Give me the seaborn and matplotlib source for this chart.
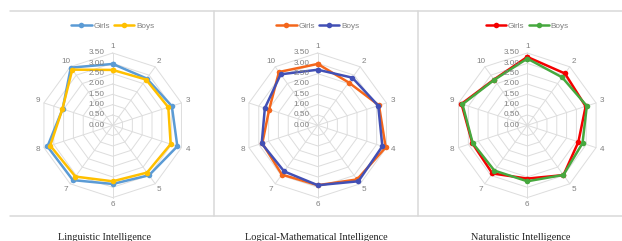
import numpy as np
import pandas as pd
import matplotlib
matplotlib.use("Agg")
import matplotlib.pyplot as plt
from matplotlib.lines import Line2D
import seaborn as sns

# ---------------- data ----------------
items = ["1", "2", "3", "4", "5", "6", "7", "8", "9", "10"]
groups = ["Girls", "Boys"]
titles = ["Linguistic Intelligence", "Logical-Mathematical Intelligence",
          "Naturalistic Intelligence"]
rings = [0.0, 0.5, 1.0, 1.5, 2.0, 2.5, 3.0, 3.5]
ring_labels = ["0.00", "0.50", "1.00", "1.50", "2.00", "2.50", "3.00", "3.50"]

ling_girls = [2.97, 2.80, 3.01, 3.29, 2.99, 2.84, 3.28, 3.32, 2.55, 3.45]
ling_boys = [2.68, 2.74, 2.83, 2.95, 2.83, 2.71, 3.07, 3.18, 2.56, 3.33]
logic_girls = [2.97, 2.56, 3.12, 3.46, 3.24, 2.90, 2.95, 2.82, 2.47, 3.19]
logic_boys = [2.69, 2.85, 3.08, 3.29, 3.35, 2.90, 2.76, 2.85, 2.69, 3.05]
nat_girls = [3.31, 3.10, 2.97, 2.60, 2.98, 2.58, 2.88, 2.80, 3.35, 2.74]
nat_boys = [3.23, 2.87, 3.03, 2.81, 2.97, 2.71, 2.71, 2.78, 3.30, 2.72]

series = [(ling_girls, ling_boys), (logic_girls, logic_boys), (nat_girls, nat_boys)]
palettes = [["#5B9BD5", "#FFC000"], ["#F4661B", "#4250B5"], ["#F40000", "#46A83E"]]

# ---------------- layout ----------------
W, H = 622, 241
fig = plt.figure(figsize=(W / 100, H / 100), dpi=100)
sns.set_style("white")
plt.rcParams["font.family"] = ["Liberation Sans", "DejaVu Sans"]

centers_x = [112.7, 317.7, 527.3]
center_y = 125.3
R = 72.3  # pixels for 3.5
title_x = [104, 316, 521]
GRID = "#DDDDDD"
TXT = "#808080"
FS = 5.9

n = len(items)
angles = np.linspace(0, 2 * np.pi, n, endpoint=False)
angles_closed = np.append(angles, 2 * np.pi)

for k in range(3):
    cx = centers_x[k]
    ax = fig.add_axes([(cx - R) / W, (H - center_y - R) / H, 2 * R / W, 2 * R / H],
                      projection="polar")
    ax.set_theta_offset(np.pi / 2)
    ax.set_theta_direction(-1)
    ax.set_facecolor("none")
    ax.grid(False)
    ax.spines["polar"].set_visible(False)

    # gridlines (decagons) and spokes
    for r in rings[1:]:
        ax.plot(angles_closed, [r] * (n + 1), color=GRID, lw=0.7, zorder=0, clip_on=False)
    for a in angles:
        ax.plot([a, a], [0, rings[-1]], color=GRID, lw=0.7, zorder=0, clip_on=False)

    g_vals, b_vals = series[k]
    rows = []
    for grp, vals in zip(groups, (g_vals, b_vals)):
        vals_c = list(vals) + [vals[0]]
        for th, v in zip(angles_closed, vals_c):
            rows.append({"theta": th, "score": v, "group": grp})
    df = pd.DataFrame(rows)
    sns.lineplot(data=df, x="theta", y="score", hue="group", hue_order=groups,
                 palette=palettes[k], marker="o", markersize=4.0, markeredgewidth=0,
                 linewidth=1.8, sort=False, ax=ax, legend=False, clip_on=False, zorder=3)
    ax.set_ylim(0, rings[-1])
    ax.set_xticks([])
    ax.set_yticks([])
    ax.set_xlabel("")
    ax.set_ylabel("")

    # ring value labels
    for r, lab in zip(rings, ring_labels):
        ax.annotate(lab, xy=(0, r), xytext=(-8, 0), textcoords="offset pixels",
                    ha="right", va="center", fontsize=FS, color=TXT)
    # category labels
    for a, lab in zip(angles, items):
        ax.text(a, 3.82, lab, ha="center", va="center", fontsize=FS, color=TXT)

    # legend
    handles = [Line2D([], [], color=c, lw=1.8, marker="o", markersize=4.0,
                      markeredgewidth=0) for c in palettes[k]]
    fig.legend(handles, groups, loc="center", bbox_to_anchor=(cx / W, 1 - 26 / H),
               ncol=2, frameon=False, fontsize=FS, handlelength=2.5,
               handletextpad=0.2, columnspacing=0.5, labelcolor=TXT)

    fig.text(title_x[k] / W, 1 - 240 / H, titles[k], ha="center", va="baseline",
             fontsize=7.4, family=["Liberation Serif", "DejaVu Serif"], color="#222222")

# frame lines
lc = "#D9D9D9"
fig.add_artist(Line2D([10 / W, 1], [1 - 11 / H, 1 - 11 / H], color=lc, lw=1.1))
fig.add_artist(Line2D([10 / W, 1], [1 - 216 / H, 1 - 216 / H], color=lc, lw=1.1))
for x in (214, 418):
    fig.add_artist(Line2D([x / W, x / W], [1 - 11 / H, 1 - 216 / H], color=lc, lw=1.1))

fig.savefig("out.png", dpi=100)
